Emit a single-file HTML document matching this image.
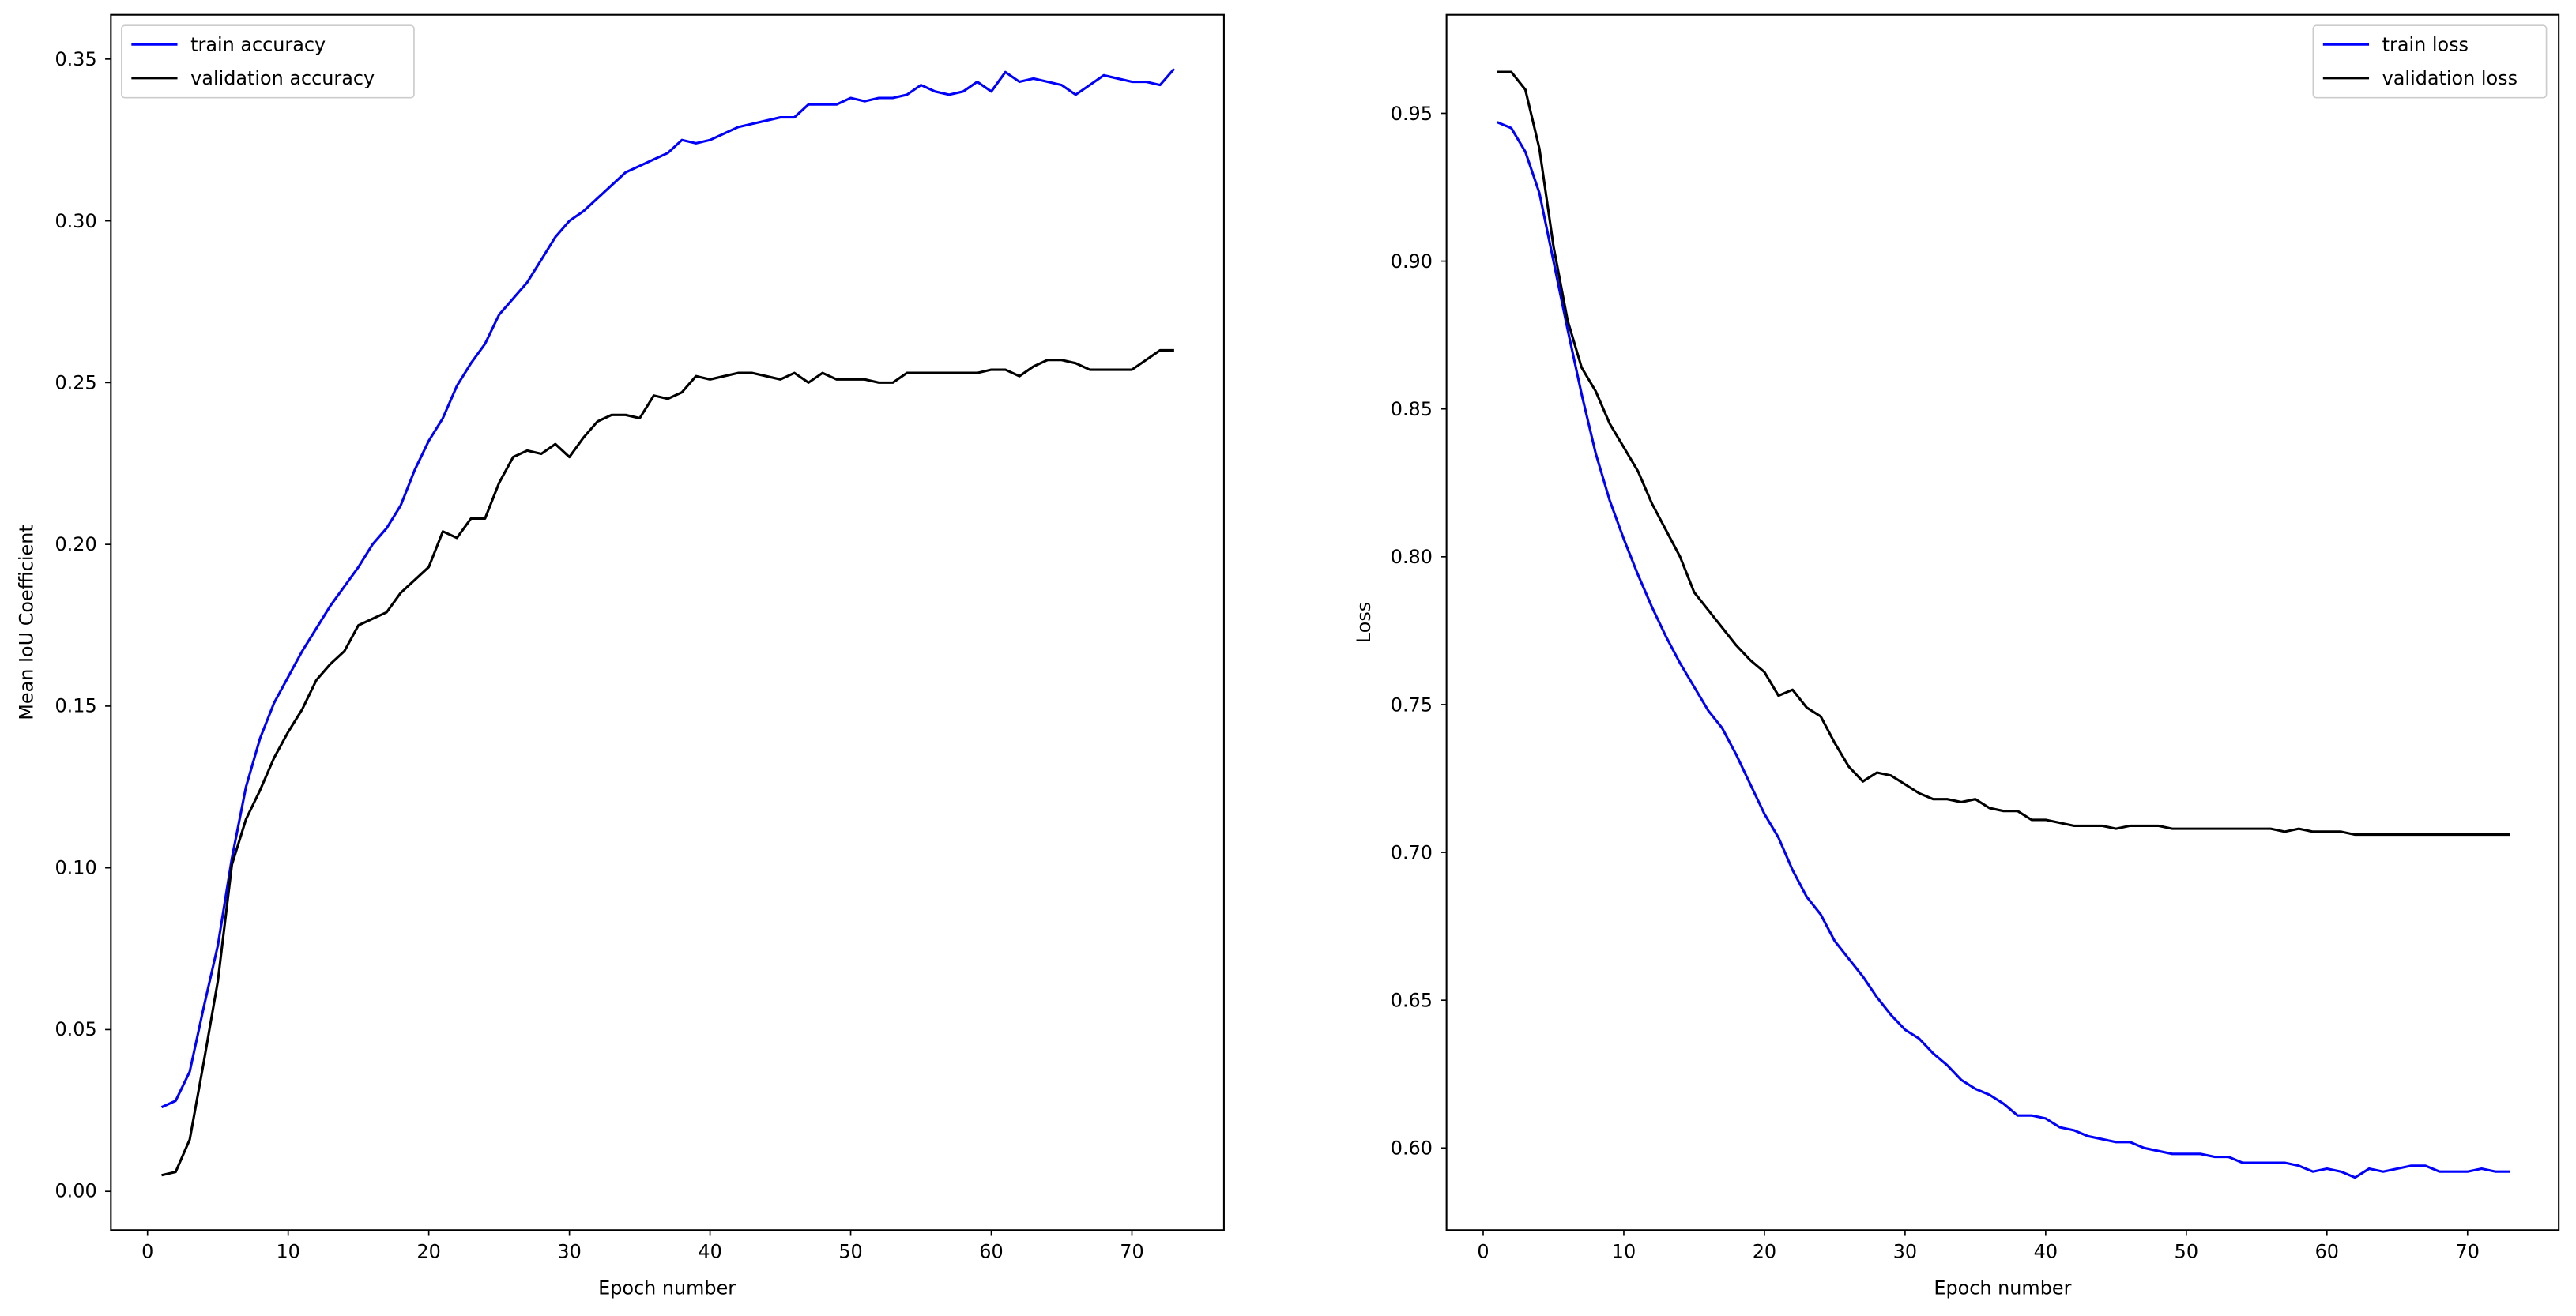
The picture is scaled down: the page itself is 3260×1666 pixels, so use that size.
<!DOCTYPE html>
<html><head><meta charset="utf-8"><style>
html,body{margin:0;padding:0;background:#fff;}
svg{display:block;}
text{font-family:"DejaVu Sans","Liberation Sans",sans-serif;font-size:11.5px;fill:#000;}
</style></head><body>
<svg id="s" width="3260" height="1666" viewBox="0 0 1568 801.3" preserveAspectRatio="none" xmlns="http://www.w3.org/2000/svg">
<rect x="0" y="0" width="1568" height="802" fill="#fff"/>
<g id="g1"></g>
<rect x="67.5" y="9" width="677.5" height="740" fill="none" stroke="#000" stroke-width="1"/>
<rect x="880.5" y="9" width="677" height="740" fill="none" stroke="#000" stroke-width="1"/>
<g text-anchor="end">
<text x="59" y="729">0.00</text><text x="59" y="630.6">0.05</text><text x="59" y="532.1">0.10</text><text x="59" y="433.7">0.15</text><text x="59" y="335.3">0.20</text><text x="59" y="236.9">0.25</text><text x="59" y="138.5">0.30</text><text x="59" y="40">0.35</text>
<text x="872" y="703">0.60</text><text x="872" y="613">0.65</text><text x="872" y="523">0.70</text><text x="872" y="433">0.75</text><text x="872" y="343">0.80</text><text x="872" y="253">0.85</text><text x="872" y="163">0.90</text><text x="872" y="73">0.95</text>
</g>
<g text-anchor="middle">
<text x="89.8" y="766">0</text><text x="175.4" y="766">10</text><text x="261" y="766">20</text><text x="346.6" y="766">30</text><text x="432.2" y="766">40</text><text x="517.8" y="766">50</text><text x="603.4" y="766">60</text><text x="689" y="766">70</text>
<text x="902.8" y="766">0</text><text x="988.4" y="766">10</text><text x="1074" y="766">20</text><text x="1159.6" y="766">30</text><text x="1245.2" y="766">40</text><text x="1330.8" y="766">50</text><text x="1416.4" y="766">60</text><text x="1502" y="766">70</text>
<text x="406" y="788">Epoch number</text>
<text x="1219" y="788">Epoch number</text>
</g>
<text x="20" y="379" text-anchor="middle" transform="rotate(-90 20 379)">Mean IoU Coefficient</text>
<text x="834" y="379" text-anchor="middle" transform="rotate(-90 834 379)">Loss</text>
<rect x="74" y="15.5" width="178" height="44" rx="2" fill="#fff" stroke="#ccc" stroke-width="0.8"/>
<line x1="80" y1="27" x2="108" y2="27" stroke="#00f" stroke-width="1.5"/>
<line x1="80" y1="47.5" x2="108" y2="47.5" stroke="#000" stroke-width="1.5"/>
<text x="116" y="31">train accuracy</text>
<text x="116" y="51.5">validation accuracy</text>
<rect x="1408" y="15.5" width="142" height="44" rx="2" fill="#fff" stroke="#ccc" stroke-width="0.8"/>
<line x1="1414" y1="27" x2="1442" y2="27" stroke="#00f" stroke-width="1.5"/>
<line x1="1414" y1="47.5" x2="1442" y2="47.5" stroke="#000" stroke-width="1.5"/>
<text x="1450" y="31">train loss</text>
<text x="1450" y="51.5">validation loss</text>
</svg>
<script>
var ta=[0.026,0.028,0.037,0.057,0.076,0.103,0.125,0.140,0.151,0.159,0.167,0.174,0.181,0.187,0.193,0.200,0.205,0.212,0.223,0.232,0.239,0.249,0.256,0.262,0.271,0.276,0.281,0.288,0.295,0.300,0.303,0.307,0.311,0.315,0.317,0.319,0.321,0.325,0.324,0.325,0.327,0.329,0.330,0.331,0.332,0.332,0.336,0.336,0.336,0.338,0.337,0.338,0.338,0.339,0.342,0.340,0.339,0.340,0.343,0.340,0.346,0.343,0.344,0.343,0.342,0.339,0.342,0.345,0.344,0.343,0.343,0.342,0.347];
var va=[0.005,0.006,0.016,0.040,0.065,0.101,0.115,0.124,0.134,0.142,0.149,0.158,0.163,0.167,0.175,0.177,0.179,0.185,0.189,0.193,0.204,0.202,0.208,0.208,0.219,0.227,0.229,0.228,0.231,0.227,0.233,0.238,0.240,0.240,0.239,0.246,0.245,0.247,0.252,0.251,0.252,0.253,0.253,0.252,0.251,0.253,0.250,0.253,0.251,0.251,0.251,0.250,0.250,0.253,0.253,0.253,0.253,0.253,0.253,0.254,0.254,0.252,0.255,0.257,0.257,0.256,0.254,0.254,0.254,0.254,0.257,0.260,0.260];
var tl=[0.947,0.945,0.937,0.923,0.900,0.877,0.855,0.835,0.819,0.806,0.794,0.783,0.773,0.764,0.756,0.748,0.742,0.733,0.723,0.713,0.705,0.694,0.685,0.679,0.670,0.664,0.658,0.651,0.645,0.640,0.637,0.632,0.628,0.623,0.620,0.618,0.615,0.611,0.611,0.610,0.607,0.606,0.604,0.603,0.602,0.602,0.600,0.599,0.598,0.598,0.598,0.597,0.597,0.595,0.595,0.595,0.595,0.594,0.592,0.593,0.592,0.590,0.593,0.592,0.593,0.594,0.594,0.592,0.592,0.592,0.593,0.592,0.592];
var vl=[0.964,0.964,0.958,0.938,0.905,0.880,0.864,0.856,0.845,0.837,0.829,0.818,0.809,0.800,0.788,0.782,0.776,0.770,0.765,0.761,0.753,0.755,0.749,0.746,0.737,0.729,0.724,0.727,0.726,0.723,0.720,0.718,0.718,0.717,0.718,0.715,0.714,0.714,0.711,0.711,0.710,0.709,0.709,0.709,0.708,0.709,0.709,0.709,0.708,0.708,0.708,0.708,0.708,0.708,0.708,0.708,0.707,0.708,0.707,0.707,0.707,0.706,0.706,0.706,0.706,0.706,0.706,0.706,0.706,0.706,0.706,0.706,0.706];
var g=document.getElementById('g1'),NS='http://www.w3.org/2000/svg',XS=8.56;
function line(d,x0,y0,ys,v0,col){var p=d.map(function(v,i){return (x0+(i+1)*XS).toFixed(2)+','+(y0-(v-v0)*ys).toFixed(2)}).join(' ');
var e=document.createElementNS(NS,'polyline');e.setAttribute('points',p);e.setAttribute('fill','none');e.setAttribute('stroke',col);e.setAttribute('stroke-width','1.5');e.setAttribute('stroke-linejoin','round');g.appendChild(e);}
line(ta,89.8,725.4,1969.7,0,'#00f');line(va,89.8,725.4,1969.7,0,'#000');
line(tl,902.8,699,1800,0.60,'#00f');line(vl,902.8,699,1800,0.60,'#000');
function tick(x1,y1,x2,y2){var e=document.createElementNS(NS,'line');e.setAttribute('x1',x1);e.setAttribute('y1',y1);e.setAttribute('x2',x2);e.setAttribute('y2',y2);e.setAttribute('stroke','#000');e.setAttribute('stroke-width','0.8');g.appendChild(e);}
for(var i=0;i<8;i++){var x=89.8+i*10*XS;tick(x,749,x,752.5);tick(x+813,749,x+813,752.5);
var y=725.4-i*0.05*1969.7;tick(64,y,67.5,y);var y2=699-i*90;tick(877,y2,880.5,y2);}
</script>
</body></html>
